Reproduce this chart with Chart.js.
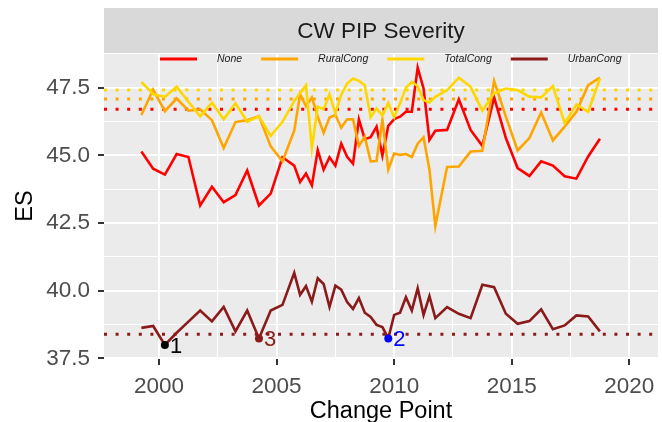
<!DOCTYPE html>
<html>
<head>
<meta charset="utf-8">
<script src="https://cdn.jsdelivr.net/npm/chart.js@4.4.1/dist/chart.umd.min.js"></script>
<style>
  body { margin: 0; background: #fff; }
</style>
</head>
<body>
<canvas id="chart" width="662" height="422"></canvas>
<script>
// dates of the estimates (half-yearly, quarterly 2006-2011)
const years = [1999.25, 1999.75, 2000.25, 2000.75, 2001.25, 2001.75, 2002.25, 2002.75, 2003.25, 2003.75,
  2004.25, 2004.75, 2005.25, 2005.75,
  2006.0, 2006.25, 2006.5, 2006.75, 2007.0, 2007.25, 2007.5, 2007.75, 2008.0, 2008.25, 2008.5, 2008.75,
  2009.0, 2009.25, 2009.5, 2009.75, 2010.0, 2010.25, 2010.5, 2010.75, 2011.0, 2011.25, 2011.5,
  2011.75, 2012.25, 2012.75, 2013.25, 2013.75, 2014.25, 2014.75, 2015.25, 2015.75, 2016.25, 2016.75,
  2017.25, 2017.75, 2018.25, 2018.75];

const none = [45.14, 44.51, 44.29, 45.05, 44.94, 43.15, 43.84, 43.27, 43.53, 44.44, 43.15, 43.59, 44.93, 44.62,
  44.02, 44.33, 43.89, 45.19, 44.47, 44.93, 44.62, 45.43, 44.95, 44.69, 46.33, 45.60, 45.67, 46.06, 44.99,
  46.09, 46.34, 46.43, 46.61, 46.61, 48.24, 47.47, 45.57,
  45.91, 45.94, 47.07, 45.94, 45.35, 47.14, 45.64, 44.53, 44.24, 44.78, 44.62, 44.23, 44.14, 44.96, 45.61];

const ruralCong = [46.49, 47.43, 46.63, 47.10, 46.65, 46.70, 46.30, 45.27, 46.23, 46.30, 46.45, 45.33, 44.78, 45.91,
  47.26, 46.82, 47.14, 46.43, 45.83, 46.40, 46.49, 46.02, 46.33, 46.33, 45.35, 45.69, 44.78, 44.79, 46.31,
  44.48, 45.07, 45.02, 45.05, 44.94, 45.43, 45.67, 44.47,
  42.39, 44.57, 44.59, 45.14, 45.17, 47.75, 46.43, 45.18, 45.64, 46.58, 45.55, 46.06, 46.61, 47.59, 47.87];

const totalCong = [47.71, 47.26, 47.16, 47.54, 46.98, 46.44, 46.95, 46.33, 46.92, 46.24, 46.44, 45.72, 46.24, 47.00,
  47.30, 47.59, 45.27, 46.80, 46.70, 47.26, 46.55, 47.24, 47.65, 47.84, 47.75, 47.59, 46.41, 46.73, 46.47,
  46.93, 46.40, 46.92, 47.50, 47.71, 47.56, 47.04, 46.95,
  47.16, 47.41, 47.87, 47.53, 46.65, 47.29, 47.47, 47.41, 47.17, 47.14, 47.56, 46.19, 46.88, 46.61, 47.84];

const urbanCong = [38.63, 38.70, 38.00, 38.45, 38.86, 39.27, 38.87, 39.40, 38.50, 39.27, 38.24, 39.27, 39.48, 40.66,
  39.85, 40.17, 39.60, 40.46, 40.25, 39.40, 40.19, 40.04, 39.58, 39.33, 39.73, 39.19, 39.03, 38.74, 38.66,
  38.24, 39.11, 39.19, 39.76, 39.27, 40.09, 39.11, 39.80,
  38.99, 39.40, 39.15, 38.99, 40.22, 40.13, 39.15, 38.78, 38.88, 39.31, 38.58, 38.72, 39.09, 39.05, 38.50];

const seriesNames = ['None', 'RuralCong', 'TotalCong', 'UrbanCong'];
const seriesValues = [none, ruralCong, totalCong, urbanCong];
const seriesColors = ['#FF0000', '#FFA500', '#FFD700', '#8B1A1A'];
const refLevels = [46.70, 47.08, 47.41, 38.39];

// change points
const changeYears = [2000.25, 2009.75, 2004.25];
const changeValues = [38.00, 38.24, 38.24];
const changeLabels = ['1', '2', '3'];
const changeColors = ['#000000', '#0000FF', '#8B1A1A'];

const xTicks = [2000, 2005, 2010, 2015, 2020];
const xMinor = [2002.5, 2007.5, 2012.5, 2017.5];
const yTicks = [37.5, 40, 42.5, 45, 47.5];
const yMinor = [38.75, 41.25, 43.75, 46.25, 48.75];

const X_MIN = 1997.66, X_MAX = 2021.22;
const Y_MIN = 37.48, Y_MAX = 48.78;
const FONT = '"Liberation Sans", Arial, Helvetica, sans-serif';

const toPoints = (xs, ys) => xs.map((x, i) => ({ x: x, y: ys[i] }));

const datasets = [];
// change point markers on top
datasets.push({
  label: 'change points',
  data: toPoints(changeYears, changeValues),
  showLine: false,
  pointRadius: 4,
  pointHoverRadius: 4,
  pointBorderWidth: 0,
  pointBackgroundColor: changeColors,
  order: 0
});
seriesNames.forEach((name, i) => {
  datasets.push({
    label: name,
    data: toPoints(years, seriesValues[i]),
    borderColor: seriesColors[i],
    borderWidth: 2.6,
    pointRadius: 0,
    tension: 0,
    order: 4 - i
  });
});
refLevels.forEach((lvl, i) => {
  datasets.push({
    label: seriesNames[i] + ' level',
    data: [{ x: X_MIN, y: lvl }, { x: X_MAX, y: lvl }],
    borderColor: seriesColors[i],
    borderWidth: 3,
    borderDash: [3, 8.6],
    pointRadius: 0,
    order: 6
  });
});

const isMajor = (axisTicks, v) => axisTicks.some(t => Math.abs(t - v) < 1e-6);

const panelPlugin = {
  id: 'panel',
  beforeDraw(chart) {
    const { ctx, chartArea: a } = chart;
    ctx.save();
    ctx.fillStyle = '#EBEBEB';
    ctx.fillRect(a.left, a.top, a.right - a.left, a.bottom - a.top);
    // facet strip
    ctx.fillStyle = '#D9D9D9';
    ctx.fillRect(a.left, 8, a.right - a.left, a.top - 8);
    ctx.fillStyle = '#1A1A1A';
    ctx.font = '22.5px ' + FONT;
    ctx.textAlign = 'center';
    ctx.textBaseline = 'middle';
    ctx.fillText('CW PIP Severity', (a.left + a.right) / 2, (8 + a.top) / 2 + 1);
    ctx.restore();
  },
  afterDatasetsDraw(chart) {
    const { ctx } = chart;
    const xs = chart.scales.x, ys = chart.scales.y;
    ctx.save();
    ctx.font = '22px ' + FONT;
    ctx.textAlign = 'left';
    ctx.textBaseline = 'middle';
    changeLabels.forEach((lab, i) => {
      ctx.fillStyle = changeColors[i];
      ctx.fillText(lab, xs.getPixelForValue(changeYears[i]) + 5, ys.getPixelForValue(changeValues[i]) + 2);
    });
    ctx.restore();
  },
  afterDraw(chart) {
    // legend inside the panel
    const { ctx, chartArea: a } = chart;
    ctx.save();
    ctx.font = 'italic 10.5px ' + FONT;
    ctx.textBaseline = 'middle';
    let x = a.left + 56;
    const y = 59;
    seriesNames.forEach((name, i) => {
      ctx.strokeStyle = seriesColors[i];
      ctx.lineWidth = 3;
      ctx.beginPath();
      ctx.moveTo(x, y);
      ctx.lineTo(x + 37, y);
      ctx.stroke();
      ctx.fillStyle = '#1A1A1A';
      ctx.fillText(name, x + 57, y);
      x += 57 + ctx.measureText(name).width + 19;
    });
    ctx.restore();
  }
};

new Chart(document.getElementById('chart'), {
  type: 'line',
  data: { datasets: datasets },
  plugins: [panelPlugin],
  options: {
    responsive: false,
    animation: false,
    events: [],
    layout: { padding: { top: 53, right: 2, left: 0, bottom: 0 } },
    plugins: {
      legend: { display: false },
      tooltip: { enabled: false }
    },
    scales: {
      x: {
        type: 'linear',
        min: X_MIN,
        max: X_MAX,
        afterBuildTicks: s => {
          s.ticks = xTicks.concat(xMinor).sort((p, q) => p - q).map(v => ({ value: v }));
        },
        afterFit: s => {
          s.height = 63;
          s.paddingLeft = 0;
          s.paddingRight = 0;
        },
        border: { display: false },
        grid: {
          color: '#FFFFFF',
          lineWidth: c => isMajor(xTicks, c.tick.value) ? 2 : 1,
          tickLength: 6,
          tickWidth: 2,
          tickColor: c => isMajor(xTicks, c.tick.value) ? '#333333' : 'rgba(0,0,0,0)'
        },
        ticks: {
          autoSkip: false,
          maxRotation: 0,
          padding: 8,
          color: '#4D4D4D',
          font: { size: 22.5, family: FONT },
          callback: v => isMajor(xTicks, v) ? String(v) : ''
        },
        title: {
          display: true,
          text: 'Change Point',
          color: '#000000',
          font: { size: 23.5, family: FONT, lineHeight: 0.85 },
          padding: 0
        }
      },
      y: {
        type: 'linear',
        min: Y_MIN,
        max: Y_MAX,
        afterBuildTicks: s => {
          s.ticks = yTicks.concat(yMinor).sort((p, q) => p - q).map(v => ({ value: v }));
        },
        afterFit: s => {
          s.width = 104;
          s.paddingTop = 0;
          s.paddingBottom = 0;
        },
        border: { display: false },
        grid: {
          color: '#FFFFFF',
          lineWidth: c => isMajor(yTicks, c.tick.value) ? 2 : 1,
          tickLength: 6,
          tickWidth: 2,
          tickColor: c => isMajor(yTicks, c.tick.value) ? '#333333' : 'rgba(0,0,0,0)'
        },
        ticks: {
          padding: 8,
          color: '#4D4D4D',
          font: { size: 22.5, family: FONT },
          callback: v => isMajor(yTicks, v) ? v.toFixed(1) : ''
        },
        title: {
          display: true,
          text: 'ES',
          color: '#000000',
          font: { size: 23.5, family: FONT, lineHeight: 1 },
          padding: { top: 14, bottom: 0 }
        }
      }
    }
  }
});
</script>
</body>
</html>
